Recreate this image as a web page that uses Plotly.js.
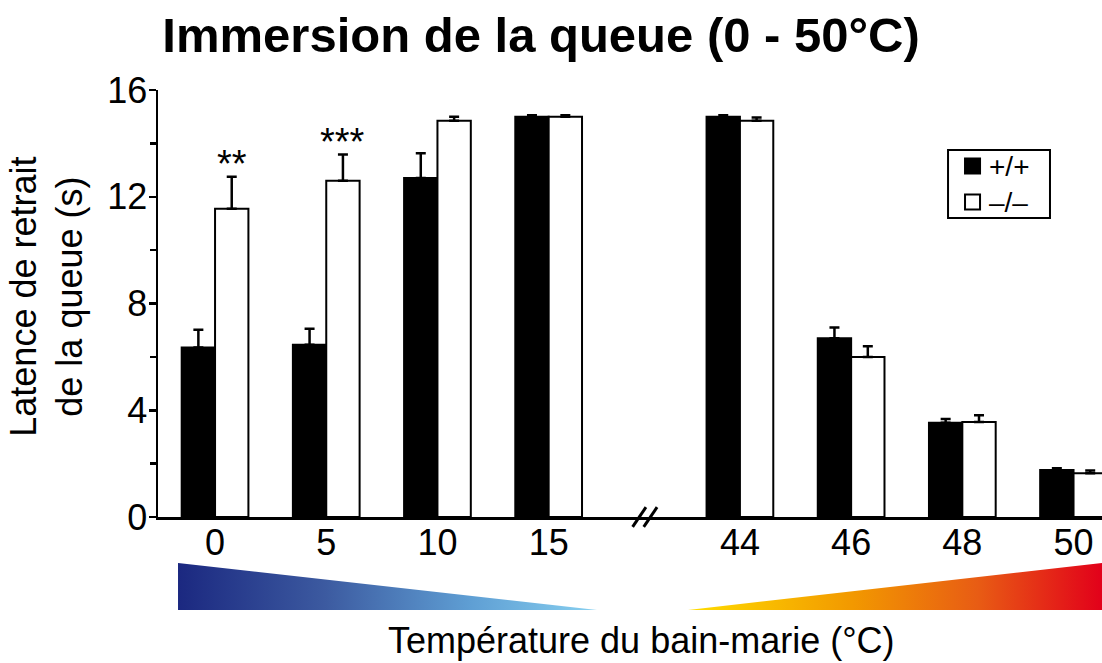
<!DOCTYPE html>
<html>
<head>
<meta charset="utf-8">
<script src="https://cdn.plot.ly/plotly-3.0.1.min.js"></script>
<style>html,body{margin:0;padding:0;background:#fff;}#chart{width:1102px;height:663px;}</style>
</head>
<body>
<div id="chart"></div>
<script>
// ---- data ----
const temps = ['0', '5', '10', '15', '44', '46', '48', '50'];
const wtMean = [6.35, 6.45, 12.7, 15.0, 15.0, 6.7, 3.53, 1.76];
const wtSem  = [0.67, 0.6, 0.93, 0.05, 0.05, 0.4, 0.14, 0.07];
const koMean = [11.55, 12.6, 14.85, 15.0, 14.85, 6.0, 3.56, 1.64];
const koSem  = [1.2, 0.98, 0.15, 0.05, 0.12, 0.4, 0.25, 0.1];
const sigLabels = ['**', '***', '', '', '', '', '', ''];
const seriesNames = ['+/+', '\u2013/\u2013'];
const seriesColors = ['#000', '#fff'];

// ---- layout helpers ----
const breakAfter = 3;      // axis break after the "15" group
const breakGap = 0.72;     // extra spacing of the break (category units)
const xpos = temps.map((t, i) => i + (i > breakAfter ? breakGap : 0));
const FONT = 'Liberation Sans, Arial, Helvetica, sans-serif';

function barTrace(name, y, err, color) {
  return {
    type: 'bar', x: xpos, y: y, name: name, showlegend: false,
    marker: {color: color, line: {color: '#000', width: 2}},
    error_y: {type: 'data', symmetric: false, array: err, arrayminus: err.map(() => 0),
              color: '#000', thickness: 2.5, width: 5},
    hoverinfo: 'skip'
  };
}
const traces = [
  barTrace(seriesNames[0], wtMean, wtSem, seriesColors[0]),
  barTrace(seriesNames[1], koMean, koSem, seriesColors[1])
];

const annotations = [];
sigLabels.forEach((s, i) => {
  if (!s) return;
  annotations.push({
    x: xpos[i] + 0.15, y: koMean[i] + koSem[i], xref: 'x', yref: 'y',
    text: s, showarrow: false, xanchor: 'center', yanchor: 'bottom', yshift: -10,
    font: {family: FONT, size: 38, color: '#000'}
  });
});
// axis titles
annotations.push({
  x: 0.5117, y: -0.29, xref: 'paper', yref: 'paper', showarrow: false,
  text: 'Température du bain-marie (°C)', xanchor: 'center', yanchor: 'middle',
  font: {family: FONT, size: 36, color: '#000'}
});
annotations.push({
  x: -0.118, y: 0.515, xref: 'paper', yref: 'paper', showarrow: false,
  text: 'Latence de retrait<br>de la queue (s)', textangle: -90,
  xanchor: 'center', yanchor: 'middle',
  font: {family: FONT, size: 36, color: '#000'}
});

// axis break marks "//"
const bx = (xpos[breakAfter] + xpos[breakAfter + 1]) / 2;
const shapes = [-0.045, 0.055].map(d => ({
  type: 'line', xref: 'x', yref: 'paper',
  x0: bx + d - 0.06, x1: bx + d + 0.06, y0: -0.023, y1: 0.023,
  line: {color: '#000', width: 3}
}));

// legend (box, swatches, labels)
const legX0 = 0.8369, legX1 = 0.9449, legY0 = 0.7002, legY1 = 0.8595;
shapes.push({type: 'rect', xref: 'paper', yref: 'paper', x0: legX0, x1: legX1, y0: legY0, y1: legY1,
  line: {color: '#000', width: 2}, fillcolor: '#fff', layer: 'above'});
const legRowY = [0.822, 0.7377];
seriesNames.forEach((n, i) => {
  shapes.push({type: 'rect', xref: 'paper', yref: 'paper',
    x0: 0.8549, x1: 0.8708, y0: legRowY[i] - 0.0175, y1: legRowY[i] + 0.0175,
    line: {color: '#000', width: 2}, fillcolor: seriesColors[i], layer: 'above'});
  annotations.push({x: 0.8782, y: legRowY[i], xref: 'paper', yref: 'paper', showarrow: false,
    text: n, xanchor: 'left', yanchor: 'middle', font: {family: FONT, size: 28, color: '#000'}});
});

// gradient triangles (decoration)
const svg = '<svg xmlns="http://www.w3.org/2000/svg" width="924" height="47" viewBox="0 0 924 47" preserveAspectRatio="none">' +
  '<defs>' +
  '<linearGradient id="b" x1="0" y1="0" x2="1" y2="0">' +
  '<stop offset="0" stop-color="#1b2880"/><stop offset="0.35" stop-color="#3c5aa0"/>' +
  '<stop offset="0.7" stop-color="#5f9fd4"/><stop offset="1" stop-color="#88d0f0"/></linearGradient>' +
  '<linearGradient id="r" x1="0" y1="0" x2="1" y2="0">' +
  '<stop offset="0" stop-color="#ffdd00"/><stop offset="0.4" stop-color="#f29800"/>' +
  '<stop offset="0.7" stop-color="#e85c14"/><stop offset="1" stop-color="#e2001a"/></linearGradient>' +
  '</defs>' +
  '<polygon points="0,0 0,47 419,47" fill="url(#b)"/>' +
  '<polygon points="510,47 924,47 924,0" fill="url(#r)"/>' +
  '</svg>';
const images = [{
  source: 'data:image/svg+xml;charset=utf-8,' + encodeURIComponent(svg),
  xref: 'paper', yref: 'paper', x: 0.0212, y: -0.1077, sizex: 0.9788, sizey: 0.1101,
  xanchor: 'left', yanchor: 'top', sizing: 'stretch', layer: 'above'
}];

const layout = {
  width: 1102, height: 663,
  margin: {l: 158, r: 0, t: 90, b: 146},
  paper_bgcolor: '#fff', plot_bgcolor: '#fff',
  font: {family: FONT, color: '#000'},
  title: {
    text: '<b>Immersion de la queue (0 - 50°C)</b>',
    x: 0.491, xanchor: 'center', xref: 'container',
    y: 0.947, yanchor: 'middle', yref: 'container',
    font: {family: FONT, size: 49, color: '#000'}
  },
  barmode: 'group', bargap: 0.4, bargroupgap: 0,
  showlegend: false,
  xaxis: {
    range: [-0.513, 7.976], tickvals: xpos, ticktext: temps,
    showline: true, linecolor: '#000', linewidth: 2.5,
    ticks: '', showgrid: false, zeroline: false, fixedrange: true,
    ticklabelstandoff: -8,
    tickfont: {family: FONT, size: 36, color: '#000'}
  },
  yaxis: {
    range: [0, 16], tickvals: [0, 4, 8, 12, 16],
    showline: true, linecolor: '#000', linewidth: 2.5,
    ticks: 'outside', ticklen: 7, tickwidth: 2.5, tickcolor: '#000',
    minor: {tickvals: [2, 6, 10, 14], ticks: 'outside', ticklen: 6, tickwidth: 2.5, tickcolor: '#000'},
    showgrid: false, zeroline: false, fixedrange: true,
    ticklabelstandoff: -6,
    tickfont: {family: FONT, size: 36, color: '#000'}
  },
  annotations: annotations,
  shapes: shapes,
  images: images
};

Plotly.newPlot('chart', traces, layout, {staticPlot: true, displayModeBar: false});
</script>
</body>
</html>
